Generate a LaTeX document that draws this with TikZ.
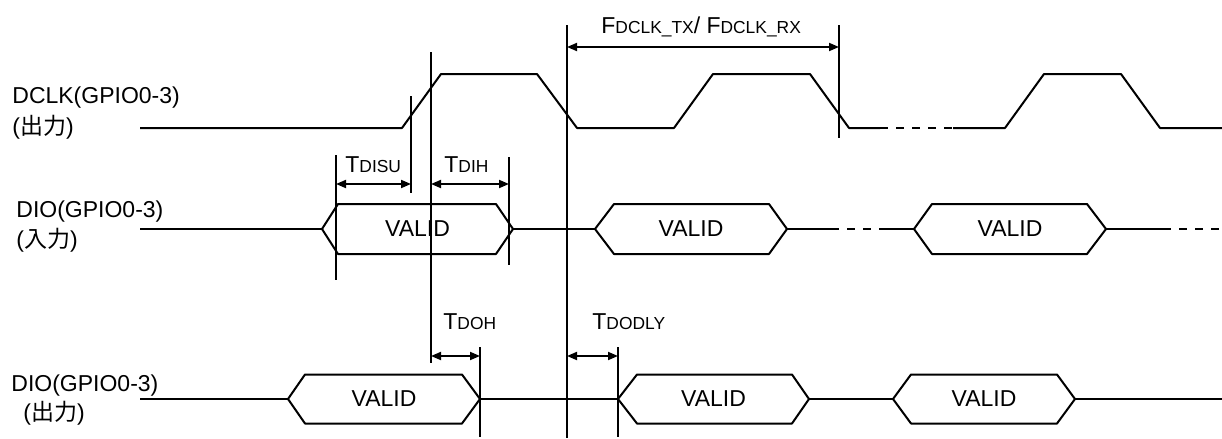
\documentclass[tikz,border=0pt]{standalone}
\usepackage{fontspec}
\setmainfont{Liberation Sans}
\newfontfamily\cjk{Noto Sans CJK JP}
\usetikzlibrary{arrows.meta}

\newcommand{\lowc}[1]{{\fontsize{8.7}{10}\selectfont #1}}

\begin{document}
\begin{tikzpicture}[
    x=0.5pt, y=-0.5pt,
    sig/.style={line width=1pt, line join=round},
    brk/.style={line width=1pt, dash pattern=on 4pt off 4pt},
    guide/.style={line width=0.9pt},
    dim/.style={{Triangle[length=5pt,width=4pt]}-{Triangle[length=5pt,width=4pt]}, line width=0.9pt},
    lbl/.style={inner sep=0pt, anchor=base west, font=\fontsize{11.5}{13}\selectfont},
    val/.style={inner sep=0pt, font=\fontsize{11.5}{13}\selectfont}
  ]
  \useasboundingbox (0,0) rectangle (1222,439);

  % signal names
  \node[lbl] (clkname) at (12,103) {DCLK(GPIO0-3)};
  \node[lbl] (clkdir) at (12,134) {({\cjk 出力})};
  \node[lbl] (dinname) at (16,217) {DIO(GPIO0-3)};
  \node[lbl] (dindir) at (16,247) {({\cjk 入力})};
  \node[lbl] (doutname) at (11,391) {DIO(GPIO0-3)};
  \node[lbl] (doutdir) at (23,420) {({\cjk 出力})};

  % clock
  \draw[sig] (140,128) -- (402,128) -- (441,74) -- (537,74) -- (577,128) -- (674,128)
    -- (713,74) -- (810,74) -- (849,128) -- (880,128);
  \draw[brk] (880,128) -- (953,128);
  \draw[sig] (953,128) -- (1005,128) -- (1044,74) -- (1121,74) -- (1160,128) -- (1222,128);

  % data lines
  \draw[sig] (140,229) -- (322,229);
  \draw[sig] (513,229) -- (595,229);
  \draw[sig] (787,229) -- (831,229);
  \draw[brk] (831,229) -- (885,229);
  \draw[sig] (885,229) -- (914,229);
  \draw[sig] (1106,229) -- (1163,229);
  \draw[brk] (1163,229) -- (1222,229);
  \draw[sig] (140,399) -- (288,399);
  \draw[sig] (480,399) -- (618,399);
  \draw[sig] (809,399) -- (893,399);
  \draw[sig] (1075,399) -- (1222,399);

  % valid windows
  \foreach \a/\b/\c/\d/\m/\h/\n in {322/338/496/513/229/25/vi1, 595/614/769/787/229/25/vi2,
      914/932/1087/1106/229/25/vi3, 288/305/462/480/399/24.5/vo1,
      618/637/792/809/399/24.5/vo2, 893/911/1057/1075/399/24.5/vo3}{
    \draw[sig] (\a,\m) -- (\b,\m-\h) -- (\c,\m-\h) -- (\d,\m) -- (\c,\m+\h) -- (\b,\m+\h) -- cycle;
    \node[val] (\n) at ({(\a+\d)/2},\m) {VALID};
  }

  % reference lines
  \draw[guide] (411,96) -- (411,193);
  \draw[guide] (431,52) -- (431,363);
  \draw[guide] (567,25) -- (567,438);
  \draw[guide] (839,25) -- (839,138);
  \draw[guide] (336,155) -- (336,280);
  \draw[guide] (509,157) -- (509,265);
  \draw[guide] (480,347) -- (480,437);
  \draw[guide] (618,347) -- (618,437);

  % timing parameters
  \draw[dim] (567,47) -- (839,47);
  \draw[dim] (336,184) -- (411,184);
  \draw[dim] (431,184) -- (509,184);
  \draw[dim] (431,356) -- (480,356);
  \draw[dim] (567,356) -- (618,356);

  \node[lbl] (fdclk) at (601,33) {F\lowc{DCLK\_TX}/ F\lowc{DCLK\_RX}};
  \node[lbl] (tdisu) at (345,172) {T\lowc{DISU}};
  \node[lbl] (tdih) at (444,172) {T\lowc{DIH}};
  \node[lbl] (tdoh) at (443,329) {T\lowc{DOH}};
  \node[lbl] (tdodly) at (592,329) {T\lowc{DODLY}};
\end{tikzpicture}
\end{document}
